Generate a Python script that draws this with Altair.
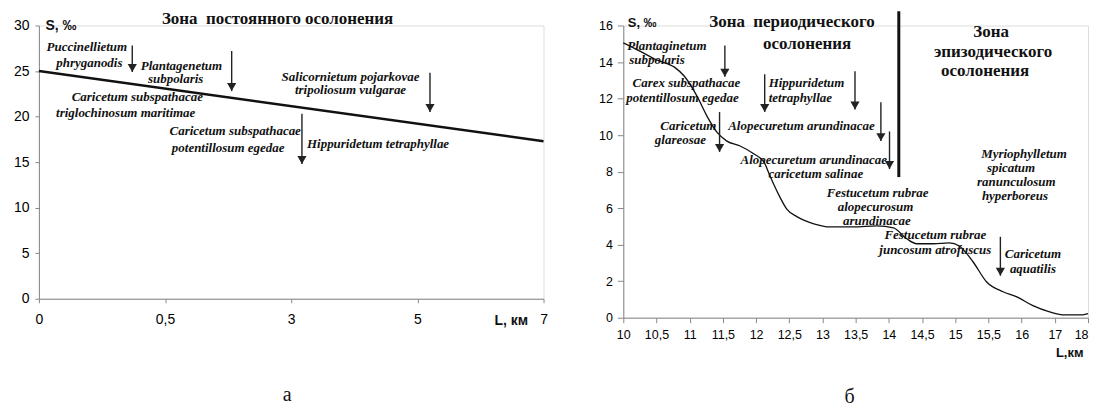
import altair as alt
import pandas as pd

SANS = "Liberation Sans"
SERIF = "Liberation Serif"

# ---------------- Panel "а" (left) ----------------
L_XTICKS = [0, 0.5, 3, 5, 7]
L_YTICKS = [0, 5, 10, 15, 20, 25, 30]
L_LINE_KM = [0, 7]
L_LINE_S = [25, 17.3]

L_ARROW_KM = [0.37, 1.82, 3.17, 5.2]
L_ARROW_TOP = [27.8, 27.2, 20.3, 24.8]
L_ARROW_TIP = [24.9, 22.8, 14.8, 20.5]

L_LABELS = ["Puccinellietum", "phryganodis", "Plantagenetum", "subpolaris",
            "Caricetum subspathacae", "triglochinosum  maritimae",
            "Caricetum subspathacae", "potentillosum  egedae",
            "Salicornietum pojarkovae", "tripoliosum vulgarae",
            "Hippuridetum tetraphyllae"]
L_LABEL_KM = [0.19, 0.2, 0.825, 0.71, 0.39, 0.344, 1.89, 1.75, 3.94, 3.94, 3.25]
L_LABEL_S = [27.6, 25.85, 25.6, 24.1, 22.1, 20.4, 18.4, 16.6, 24.4, 22.9, 17.0]
L_LABEL_ALIGN = ["center"] * 10 + ["left"]

L_ZONE = ["Зона\u00a0\u00a0постоянного осолонения"]
L_ZONE_KM = [2.73]
L_ZONE_S = [30.67]

# ---------------- Panel "б" (right) ----------------
R_XTICKS = [10, 10.5, 11, 11.5, 12, 12.5, 13, 13.5, 14, 14.5, 15, 15.5, 16, 17, 18]
R_YTICKS = [0, 2, 4, 6, 8, 10, 12, 14, 16]
R_CURVE_KM = [10.0, 10.25, 10.51, 10.77, 10.92, 11.11, 11.26, 11.41, 11.56, 11.76,
              11.97, 12.12, 12.21, 12.35, 12.46, 12.62, 12.87, 13.11, 13.47, 13.82,
              14.07, 14.27, 14.42, 14.67, 14.91, 15.06, 15.27, 15.47, 15.72, 15.92,
              16.34, 16.82, 17.24, 17.84, 18.0]
R_CURVE_S = [15.05, 14.6, 14.1, 13.72, 13.22, 12.13, 11.04, 10.16, 9.67, 9.4,
             8.96, 8.52, 7.76, 6.67, 5.96, 5.52, 5.14, 4.97, 4.97, 5.03,
             4.92, 4.32, 4.05, 4.05, 4.1, 3.93, 3.05, 1.97, 1.42, 1.15,
             0.66, 0.33, 0.16, 0.16, 0.22]

R_ARROW_KM = [11.53, 11.45, 12.13, 13.49, 13.88, 14.01, 15.68]
R_ARROW_TOP = [14.9, 11.26, 13.33, 13.5, 11.8, 10.2, 4.43]
R_ARROW_TIP = [13.2, 9.07, 11.26, 11.4, 9.67, 8.14, 2.3]

R_DIVIDER_KM = [14.15]
R_DIVIDER_TOP = [16.78]
R_DIVIDER_BOTTOM = [7.7]

R_LABELS = ["Plantaginetum", "subpolaris",
            "Carex subspathacae", "potentillosum  egedae",
            "Caricetum", "glareosae",
            "Hippuridetum", "tetraphyllae",
            "Alopecuretum arundinacae",
            "Alopecuretum  arundinacae", "caricetum salinae",
            "Festucetum rubrae", "alopecurosum", "arundinacae",
            "Festucetum rubrae", "juncosum atrofuscus",
            "Caricetum", "aquatilis",
            "Myriophylletum", "spicatum", "ranunculosum", "hyperboreus"]
R_LABEL_KM = [10.06, 10.09, 11.76, 11.74, 10.98, 10.86, 12.19, 12.19, 11.58,
              12.87, 12.9, 13.83, 13.8, 13.82, 14.7, 14.7, 16.34, 16.34,
              16.07, 15.84, 15.92, 15.9]
R_LABEL_S = [14.86, 14.1, 12.84, 12.02, 10.49, 9.73, 12.84, 12.02, 10.49,
             8.63, 7.87, 6.83, 6.07, 5.3, 4.54, 3.72, 3.5, 2.68,
             8.96, 8.2, 7.43, 6.67]
R_LABEL_ALIGN = ["left", "left", "right", "right", "center", "center", "left", "left",
                 "left", "center", "center", "center", "center", "center", "center",
                 "center", "center", "center", "center", "center", "center", "center"]

R_ZONE = ["Зона\u00a0\u00a0периодического", "осолонения", "Зона", "эпизодического", "осолонения"]
R_ZONE_KM = [12.54, 12.77, 15.54, 15.57, 15.45]
R_ZONE_S = [16.17, 14.97, 15.63, 14.54, 13.5]

# ---------------- sizes ----------------
LW, LH = 506, 274
RW, RH = 466, 293

LABEL_EXPR = "replace(toString(datum.value), '.', ',')"


def panel(xdomain, xticks, yticks, xrange, line_km, line_s, arrows, labels, zones,
          w, h, xaxis_kw, yaxis_kw, line_width, interp, extra=None, caption="", cap_kw=None):
    xscale = alt.Scale(domain=xdomain, range=xrange, nice=False, zero=False)
    yscale = alt.Scale(domain=[yticks[0], yticks[-1]], nice=False, zero=False)
    xaxis = alt.Axis(values=xticks, labelExpr=LABEL_EXPR, grid=False, labelFlush=False,
                     labelOverlap=False, **xaxis_kw)
    yaxis = alt.Axis(values=yticks, grid=False, labelFlush=False, **yaxis_kw)

    def X(field):
        return alt.X(f"{field}:Q", scale=xscale, axis=xaxis)

    def Y(field):
        return alt.Y(f"{field}:Q", scale=yscale, axis=yaxis)

    line_df = pd.DataFrame({"km": line_km, "s": line_s})
    line = alt.Chart(line_df).mark_line(color="#111", strokeWidth=line_width,
                                        interpolate=interp, clip=False).encode(
        x=X("km"), y=Y("s"), order="km:Q")

    akm, atop, atip = arrows
    arr_df = pd.DataFrame({"km": akm, "s": atop, "tip": atip})
    shafts = alt.Chart(arr_df).mark_rule(color="#222", strokeWidth=1.4).encode(
        x=X("km"), y=Y("s"), y2="tip:Q")
    heads = alt.Chart(arr_df).mark_point(shape="triangle-down", filled=True, size=85,
                                         color="#222", opacity=1, yOffset=-4).encode(
        x=X("km"), y=Y("tip"))

    texts, tkm, ts, talign = labels
    lab_df = pd.DataFrame({"km": tkm, "s": ts, "t": texts, "a": talign})
    layers = [line, shafts, heads]
    for a in ["left", "center", "right"]:
        sub = lab_df[lab_df["a"] == a]
        if len(sub) == 0:
            continue
        layers.append(alt.Chart(sub).mark_text(
            align=a, baseline="middle", font=SERIF, fontStyle="italic", fontWeight="bold",
            fontSize=13, color="#111").encode(x=X("km"), y=Y("s"), text="t:N"))

    ztext, zkm, zs = zones
    z_df = pd.DataFrame({"km": zkm, "s": zs, "t": ztext})
    layers.append(alt.Chart(z_df).mark_text(
        align="center", baseline="middle", font=SERIF, fontWeight="bold",
        fontSize=17, color="#111").encode(x=X("km"), y=Y("s"), text="t:N"))

    if extra is not None:
        dkm, dtop, dbot = extra
        d_df = pd.DataFrame({"km": dkm, "s": dtop, "b": dbot})
        layers.append(alt.Chart(d_df).mark_rule(color="#111", strokeWidth=3).encode(
            x=X("km"), y=Y("s"), y2="b:Q"))

    return alt.layer(*layers).properties(
        width=w, height=h,
        title=alt.TitleParams(caption, orient="bottom", anchor="middle", font=SERIF,
                              fontSize=20, fontWeight="normal", color="#111", **cap_kw))


left = panel(
    L_XTICKS, L_XTICKS, L_YTICKS, [0, LW / 4, LW / 2, 3 * LW / 4, LW],
    L_LINE_KM, L_LINE_S,
    (L_ARROW_KM, L_ARROW_TOP, L_ARROW_TIP),
    (L_LABELS, L_LABEL_KM, L_LABEL_S, L_LABEL_ALIGN),
    (L_ZONE, L_ZONE_KM, L_ZONE_S),
    LW, LH,
    dict(title="L, км", titleX=490, titleY=21.5, titleAlign="right", titleBaseline="middle",
         titleFont=SANS, titleFontSize=14, titleFontWeight="bold", titleColor="#111",
         tickSize=4, labelPadding=10, labelFontSize=14),
    dict(title="S, ‰", titleX=6, titleY=0, titleAngle=0, titleAlign="left",
         titleBaseline="middle", titleFont=SANS, titleFontSize=14, titleFontWeight="bold",
         titleColor="#111", tickSize=4, labelPadding=6, labelFontSize=14),
    2.6, "linear", caption="а", cap_kw=dict(offset=58, dx=-4))

right = panel(
    [10, 16, 18], R_XTICKS, R_YTICKS, [0, RW * 12 / 14, RW],
    R_CURVE_KM, R_CURVE_S,
    (R_ARROW_KM, R_ARROW_TOP, R_ARROW_TIP),
    (R_LABELS, R_LABEL_KM, R_LABEL_S, R_LABEL_ALIGN),
    (R_ZONE, R_ZONE_KM, R_ZONE_S),
    RW, RH,
    dict(title="L,км", titleX=461, titleY=35, titleAlign="right", titleBaseline="middle",
         titleFont=SANS, titleFontSize=13, titleFontWeight="bold", titleColor="#111",
         tickSize=5, labelPadding=6, labelFontSize=12.5,
         labelAlign={"condition": {"test": "datum.value == 18", "value": "right"},
                     "value": "center"}),
    dict(title="S, ‰", titleX=4, titleY=-3, titleAngle=0, titleAlign="left",
         titleBaseline="middle", titleFont=SANS, titleFontSize=13, titleFontWeight="bold",
         titleColor="#111", tickSize=6, labelPadding=5, labelFontSize=12.5),
    1.3, "monotone", extra=(R_DIVIDER_KM, R_DIVIDER_TOP, R_DIVIDER_BOTTOM),
    caption="б", cap_kw=dict(offset=28, dx=-6))

chart = alt.hconcat(left, right, spacing=80, bounds="flush").properties(
    padding={"left": 4, "top": 0, "right": 0, "bottom": 0}
).configure_view(stroke=None).configure_axis(
    domainColor="#666", tickColor="#666", labelColor="#222", labelFont=SANS,
    domainWidth=1, tickWidth=1
).configure(background="white")

chart.save("out.html", embed_options={"renderer": "svg", "actions": False})
